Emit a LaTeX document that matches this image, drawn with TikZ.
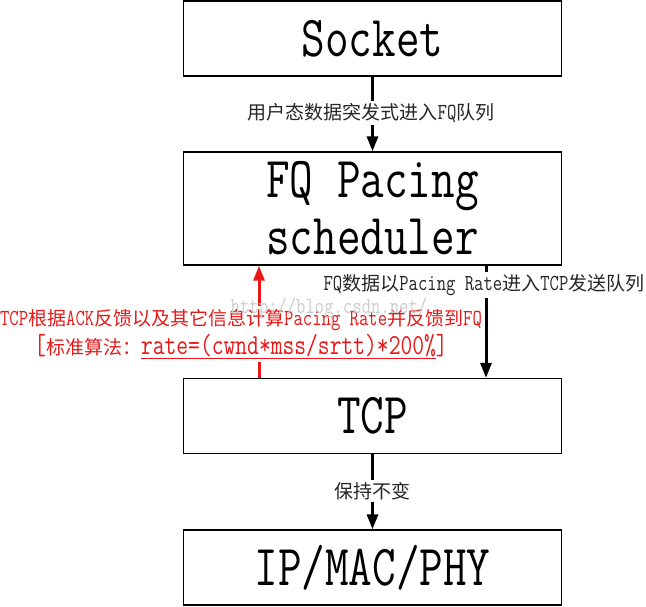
\documentclass[tikz,border=0pt]{standalone}
\usepackage{fontspec}
\setmainfont[FakeStretch=0.79]{Latin Modern Mono}
\newfontfamily\cjk{Noto Sans CJK SC}
\usetikzlibrary{arrows.meta}
\definecolor{myred}{RGB}{232,24,24}
\newcommand\zh[1]{{\cjk\fontsize{19}{29}\selectfont #1}}
\tikzset{
  box/.style={draw=black, line width=1.4pt, rectangle, minimum width=378pt, inner sep=0pt, align=center, font=\fontsize{58}{57}\selectfont},
  arr/.style={line width=3pt, -{Triangle[length=15pt,width=11pt]}},
  lbl/.style={fill=white, inner xsep=1pt, inner ysep=2pt, text=black!85, font=\fontsize{23}{29}\selectfont},
}
\begin{document}
\begin{tikzpicture}[x=1pt,y=-1pt]
\useasboundingbox (0,0) rectangle (646,606);
\node[box, minimum height=75pt] (sock) at (372.5,38.3) {Socket};
\node[box, minimum height=113pt] (fq) at (372.5,208.5) {FQ Pacing\\scheduler};
\node[box, minimum height=75pt] (tcp) at (372.5,416) {TCP};
\node[box, minimum height=75pt] (ip) at (372.5,567.5) {IP/MAC/PHY};
\coordinate (bx) at (486,0);
\coordinate (rx) at (259,0);
% Socket -> FQ
\draw[arr] (sock.south) -- (fq.north);
\node[lbl] (l1) at (371,113) {\zh{用户态数据突发式进入}FQ\zh{队列}};
% FQ -> TCP
\draw[arr] (fq.south -| bx) -- (tcp.north -| bx);
\node[lbl] (l2) at (484,285) {FQ\zh{数据以}Pacing Rate\zh{进入}TCP\zh{发送队列}};
% TCP -> IP
\draw[arr] (tcp.south) -- (ip.north);
\node[lbl] (l3) at (372,491) {\zh{保持不变}};
% red feedback
\draw[arr, myred] (tcp.north -| rx) -- (fq.south -| rx);
\node[fill=white, inner xsep=0pt, inner ysep=3pt, align=center, text=myred, font=\fontsize{23}{29}\selectfont] (red) at (241,334)
  {TCP\zh{根据}ACK\zh{反馈以及其它信息计算}Pacing Rate\zh{并反馈到}FQ\\
   {\fontsize{29}{29}\selectfont[}\zh{标准算法：}{\fontsize{29}{29}\selectfont\underline{rate=(cwnd*mss/srtt)*200\%}]}};
\node[text=black!20, font=\fontsize{23}{23}\selectfont] (wm) at (329,308) {http://blog.csdn.net/};
\end{tikzpicture}
\end{document}
